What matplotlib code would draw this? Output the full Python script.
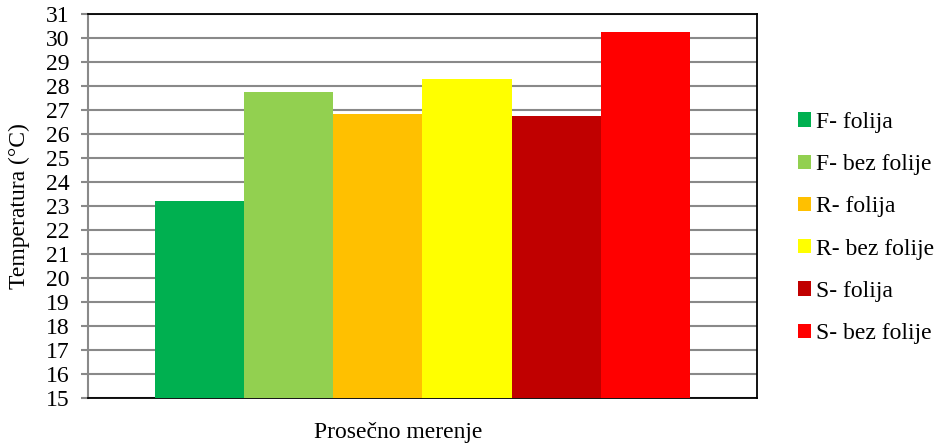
import numpy as np
import matplotlib.pyplot as plt

plt.rcParams['font.family'] = ['Liberation Serif', 'DejaVu Serif']

labels = ['F- folija', 'F- bez folije', 'R- folija', 'R- bez folije', 'S- folija', 'S- bez folije']
values = [23.2, 27.75, 26.83, 28.29, 26.75, 30.25]
colors = ['#00B050', '#92D050', '#FFC000', '#FFFF00', '#C00000', '#FF0000']
yticks = list(range(15, 32))

fig = plt.figure(figsize=(9.42, 4.46), dpi=100)
ax = fig.add_axes([0.0934, 0.1076, 0.7102, 0.861])

n = len(values)
w = 0.8 / n
offsets = (np.arange(n) - (n - 1) / 2) * w
for off, v, c, lab in zip(offsets, values, colors, labels):
    ax.bar(off, v - 15, bottom=15, width=w, color=c, label=lab, zorder=3)

ax.set_xlim(-0.5, 0.5)
ax.set_ylim(15, 31)
ax.set_yticks(yticks)
ax.set_xticks([])
ax.grid(axis='y', color='#898989', linewidth=1.5, zorder=0)
ax.tick_params(axis='y', direction='out', length=5, width=1.5, color='#898989',
               labelsize=17, pad=8.5)
for s in ['top', 'right', 'bottom']:
    ax.spines[s].set_color('black')
    ax.spines[s].set_linewidth(1.3)
ax.spines['left'].set_color('#898989')
ax.spines['left'].set_linewidth(1.5)

ax.set_ylabel('Temperatura (°C)', fontsize=17)
ax.yaxis.set_label_coords(-0.087, 0.5)
fig.text(0.423, 0.03, 'Prosečno merenje', fontsize=17, ha='center', va='center')

ax.legend(loc='center left', bbox_to_anchor=(1.061, 0.443), frameon=False, fontsize=17,
          handlelength=0.55, handleheight=0.55, handletextpad=0.2, labelspacing=0.9,
          borderpad=0, borderaxespad=0)

fig.savefig('out.png', dpi=100)
